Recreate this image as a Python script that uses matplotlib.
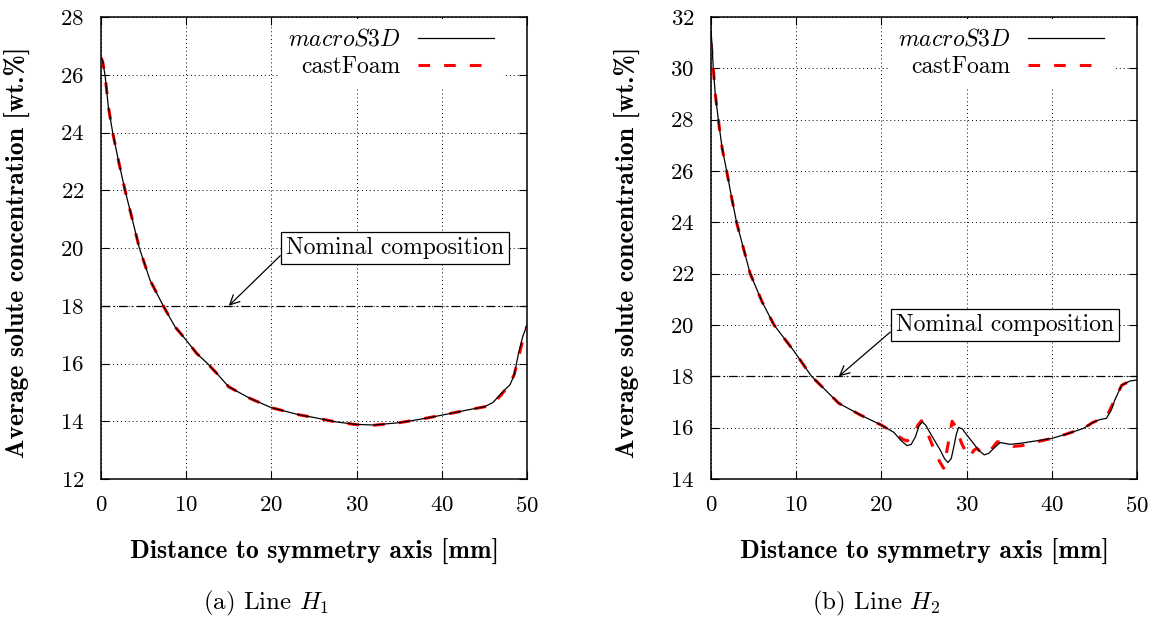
import numpy as np
import matplotlib
matplotlib.use('Agg')
import matplotlib.pyplot as plt

plt.rcParams['font.family'] = 'cmr10'
plt.rcParams['mathtext.fontset'] = 'cm'
plt.rcParams['axes.formatter.use_mathtext'] = True
plt.rcParams['font.size'] = 17

# Line H1 (left panel)
h1_macro_x = [0, 0.2, 0.47, 0.86, 1.37, 2.03, 2.82, 3.6, 4.5, 5.75, 7.3, 8.69, 10, 11.23,
              12.5, 13.58, 15, 17.5, 20, 23.3, 25, 27.5, 30, 32, 35, 37.5, 40, 43, 45, 46,
              47, 47.6, 48, 48.5, 49, 49.5, 50]
h1_macro_y = [26.6, 26.45, 26.0, 24.9, 24.0, 23.05, 22.0, 21.08, 20.0, 18.89, 18.0, 17.27,
              16.81, 16.35, 16.0, 15.66, 15.19, 14.79, 14.47, 14.22, 14.13, 13.98, 13.89,
              13.87, 13.95, 14.07, 14.21, 14.39, 14.5, 14.65, 14.97, 15.15, 15.26, 15.6,
              16.35, 16.93, 17.33]
h1_cast_x = [0, 0.2, 0.47, 0.86, 1.37, 2.03, 2.82, 3.6, 4.5, 5.75, 7.3, 8.69, 10, 11.23,
             12.5, 13.58, 15, 17.5, 20, 23.3, 25, 27.5, 30, 32, 35, 37.5, 40, 43, 45, 46,
             47, 48, 48.5, 49, 49.5, 50]
h1_cast_y = [26.6, 26.45, 26.0, 24.9, 24.0, 23.05, 22.0, 21.08, 20.0, 18.89, 18.0, 17.27,
             16.81, 16.35, 16.0, 15.66, 15.19, 14.79, 14.47, 14.22, 14.13, 13.98, 13.88,
             13.86, 13.95, 14.07, 14.21, 14.39, 14.5, 14.62, 14.92, 15.3, 15.62, 16.2, 16.8,
             17.3]

# Line H2 (right panel)
h2_macro_x = [0, 0.1, 0.27, 0.5, 0.86, 1.3, 1.84, 2.4, 3.0, 3.8, 4.6, 6.0, 7.4, 9.7, 11.8, 15,
              17.5, 20, 21.45, 22.3, 23.0, 23.5, 24.0, 24.4, 24.77, 25.2, 25.74, 26.9, 27.4,
              27.8, 28.2, 28.5, 28.8, 29.06, 29.5, 30.04, 30.8, 31.4, 32.07, 32.6, 33.2, 33.95,
              35.1, 36.3, 37.46, 40, 41.7, 43.7, 44.8, 45.5, 46.0, 46.4, 47.0, 47.4, 48.2,
              49.2, 50]
h2_macro_y = [31.5, 31.0, 30.0, 29.0, 28.0, 26.9, 26.0, 25.0, 24.0, 23.0, 22.0, 20.9, 20.0,
              19.0, 18.0, 16.95, 16.5, 16.1, 15.82, 15.5, 15.3, 15.35, 15.65, 16.05, 16.23,
              16.1, 15.78, 15.13, 14.8, 14.64, 14.8, 15.26, 15.75, 16.01, 15.95, 15.71, 15.39,
              15.13, 14.94, 15.0, 15.2, 15.42, 15.35, 15.39, 15.45, 15.58, 15.75, 15.97, 16.2,
              16.3, 16.34, 16.36, 16.7, 17.08, 17.66, 17.82, 17.86]
h2_cast_x = [0, 0.27, 0.5, 0.86, 1.3, 1.84, 2.4, 3.0, 3.8, 4.6, 6.0, 7.4, 9.7, 11.8, 15, 17.5,
             20, 20.5, 22.5, 23.0, 23.5, 24.3, 24.7, 25.4, 26.0, 26.8, 27.3, 27.8, 28.3, 28.8,
             29.4, 30.0, 30.4, 30.8, 31.2, 31.8, 32.3, 33.0, 33.6, 34.5, 35.5, 36.5, 38, 40,
             41.7, 43.7, 44.8, 45.5, 46.4, 47.4, 48.2, 49.2, 50]
h2_cast_y = [31.0, 30.0, 29.0, 28.0, 26.9, 26.0, 25.0, 24.0, 23.0, 22.0, 20.9, 20.0, 19.0,
             18.0, 16.95, 16.5, 16.1, 16.0, 15.55, 15.48, 15.6, 16.1, 16.27, 15.8, 15.3, 14.7,
             14.42, 15.3, 16.25, 16.0, 15.4, 15.0, 14.85, 15.1, 15.2, 15.0, 15.0, 15.2, 15.45,
             15.4, 15.27, 15.3, 15.43, 15.58, 15.75, 15.97, 16.2, 16.3, 16.4, 17.1, 17.65,
             17.82, 17.86]

nominal = 18.0
xticks = [0, 10, 20, 30, 40, 50]

fig = plt.figure(figsize=(11.53, 6.17), dpi=100)
ax1 = fig.add_axes([101 / 1153, 1 - 479 / 617, 426 / 1153, 462 / 617])
ax2 = fig.add_axes([711 / 1153, 1 - 479 / 617, 426 / 1153, 462 / 617])


def draw(ax, mx, my, cx, cy, ylim):
    ax.set_xlim(0, 50)
    ax.set_ylim(*ylim)
    ax.set_xticks(xticks)
    ax.set_yticks(np.arange(ylim[0], ylim[1] + 1, 2))
    ax.grid(True, color='black', linestyle=(0, (1, 3)), linewidth=0.7)
    ax.tick_params(direction='in', top=True, right=True, length=6, width=0.8,
                   labelsize=16.5)
    ax.tick_params(axis='x', pad=12)
    ax.tick_params(axis='y', pad=12)
    for s in ax.spines.values():
        s.set_linewidth(1.1)
    ax.axhline(nominal, color='black', linewidth=0.9, linestyle=(0, (7, 3, 1, 3)))
    ax.plot(mx, my, color='black', linewidth=0.9, label=r'$macroS3D$', zorder=4)
    ax.plot(cx, cy, color='red', linewidth=2.2, linestyle=(0, (3.8, 4.6)),
            label='castFoam', zorder=3)
    leg = ax.legend(loc='upper right', bbox_to_anchor=(0.95, 1.0), markerfirst=False,
                    handlelength=3.2, handletextpad=0.75, labelspacing=0.2,
                    fancybox=False, framealpha=1, borderaxespad=0.1, fontsize=17)
    leg.get_frame().set_linewidth(0)
    ax.annotate('Nominal composition', xy=(15, nominal), xytext=(34.5, 20.0),
                ha='center', va='center', fontsize=17,
                bbox=dict(boxstyle='square,pad=0.22', fc='white', ec='black', lw=0.9),
                arrowprops=dict(arrowstyle='->', color='black', lw=0.9,
                                shrinkA=0, shrinkB=0, relpos=(0, 0.4)),
                zorder=6)
    ax.set_xlabel('Distance to symmetry axis [mm]', family='cmb10', fontsize=18.5)
    ax.set_ylabel('Average solute concentration [wt.%]', family='cmb10', fontsize=18.5)
    ax.xaxis.set_label_coords(0.5, -0.13)
    ax.yaxis.set_label_coords(-0.165, 0.49)


draw(ax1, h1_macro_x, h1_macro_y, h1_cast_x, h1_cast_y, (12, 28))
draw(ax2, h2_macro_x, h2_macro_y, h2_cast_x, h2_cast_y, (14, 32))

fig.text(266 / 1153, 1 - 603 / 617, r'(a) Line $H_1$', ha='center', va='center', fontsize=18)
fig.text(876 / 1153, 1 - 603 / 617, r'(b) Line $H_2$', ha='center', va='center', fontsize=18)

fig.savefig('out.png', dpi=100)
